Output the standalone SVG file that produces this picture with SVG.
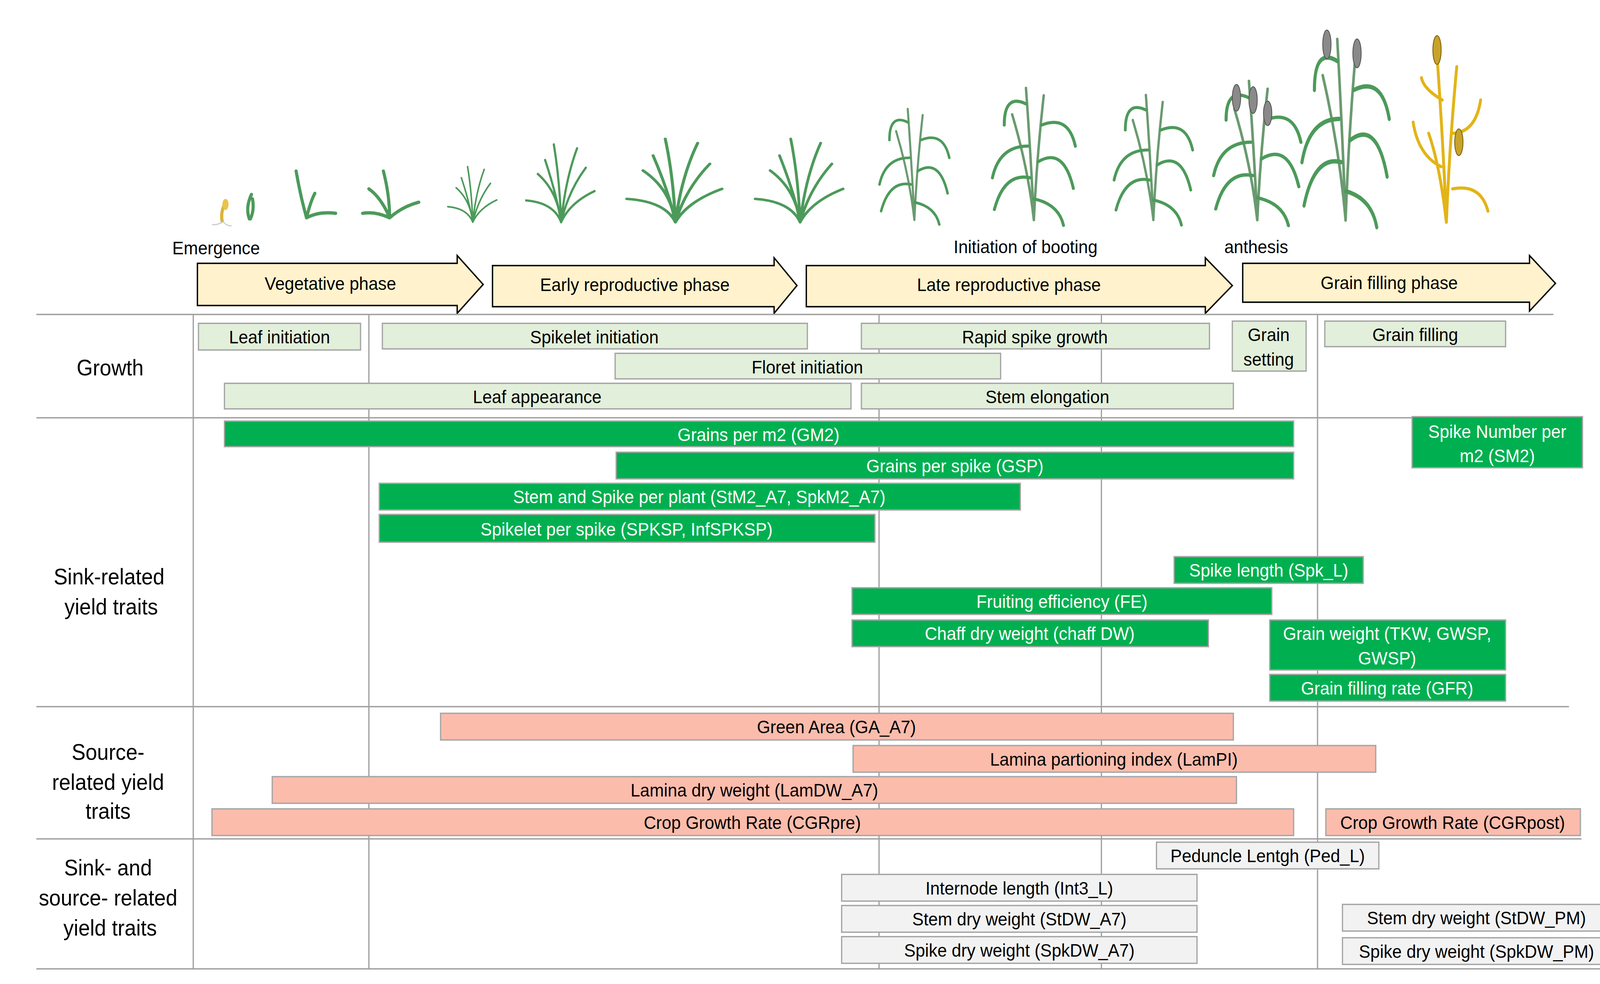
<svg xmlns="http://www.w3.org/2000/svg" xmlns:xlink="http://www.w3.org/1999/xlink" width="4437" height="2519" viewBox="0 0 4437 2519">
<style>
text{font-family:"Liberation Sans",Arial,sans-serif;font-size:16.5px;text-anchor:middle;fill:#000}
.lg{fill:#e2efda;stroke:#a5a5a5;stroke-width:1.2}
.gr{fill:#00b050;stroke:#a5a5a5;stroke-width:1.2}
.sa{fill:#fbbcac;stroke:#a5a5a5;stroke-width:1.2}
.gy{fill:#f2f2f2;stroke:#a5a5a5;stroke-width:1.2}
.ar{fill:#fff2cc;stroke:#000;stroke-width:1.3}
.w{fill:#fff}
.row{font-size:20px}
.ln{stroke:#a0a0a0;stroke-width:1.2;fill:none}
.lf{fill:none;stroke:#4c9a5a;stroke-width:3;stroke-linecap:round}
.st{fill:none;stroke:#6a9a70;stroke-width:2.5;stroke-linecap:round}
.sp{fill:#8a8a8a;stroke:#555;stroke-width:0.8}
.ys{fill:none;stroke:#e2b417;stroke-width:2.8;stroke-linecap:round}
.ysp{fill:#c9a22a;stroke:#7a6210;stroke-width:0.8}
</style>
<defs>
<g id="tuft">
<path class="lf" d="M0 0Q-5 -40 -32 -62M0 0Q6 -55 22 -95M0 0Q-10 -25 -48 -28M0 0Q12 -25 46 -40M0 0Q-2 -55 -10 -100M0 0Q10 -40 34 -70M0 0Q-6 -35 -22 -80"/>
</g>
<g id="tall">
<path class="st" d="M0 0Q-3 -60 -8 -125M0 0Q3 -60 10 -118M0 0Q-6 -50 -22 -100"/>
<path class="lf" d="M-4 -40Q-30 -45 -40 -10M-6 -70Q-35 -70 -42 -40M4 -55Q30 -70 40 -30M8 -90Q35 -100 42 -70M-8 -110Q-30 -120 -30 -90M0 -20Q25 -15 30 5"/>
</g>
</defs>
<g transform="scale(2.66 2.8443)">
<g id="plants">
<path d="M214 200q-2 -8 2 -16" stroke="#d9b43a" stroke-width="3" fill="none"/>
<ellipse cx="217" cy="184" rx="3" ry="5" fill="#e8c44a"/>
<path d="M214 200q-6 3 -10 2M215 200q4 4 8 3" stroke="#ccc" stroke-width="1" fill="none"/>
<path class="lf" d="M240 197q-4 -10 2 -22M241 197q4 -8 2 -18"/>
<path class="lf" d="M295 196q-6 -20 -10 -42M295 196q4 -15 8 -22M295 196q12 -6 28 -4"/>
<path class="lf" d="M375 196q-8 -18 -20 -26M375 196q0 -20 -6 -42M375 196q12 -10 28 -14M375 196q-14 -6 -26 -4"/>
<use xlink:href="#tuft" transform="translate(455 200) scale(0.5)"/>
<use xlink:href="#tuft" transform="translate(540 200) scale(0.7)"/>
<use xlink:href="#tuft" transform="translate(650 200) scale(0.975 0.75)"/>
<use xlink:href="#tuft" transform="translate(770 200) scale(0.9 0.75)"/>
<use xlink:href="#tall" transform="translate(880 198) scale(0.8)"/>
<use xlink:href="#tall" transform="translate(995 198) scale(0.95)"/>
<use xlink:href="#tall" transform="translate(1110 198) scale(0.9)"/>
<use xlink:href="#tall" transform="translate(1210 198) scale(1)"/>
<ellipse class="sp" cx="1190" cy="88" rx="4" ry="12"/>
<ellipse class="sp" cx="1206" cy="90" rx="4" ry="12"/>
<ellipse class="sp" cx="1220" cy="102" rx="4" ry="11"/>
<use xlink:href="#tall" transform="translate(1295 198) scale(1 1.3)"/>
<ellipse class="sp" cx="1277" cy="40" rx="4" ry="13"/>
<ellipse class="sp" cx="1306" cy="48" rx="4" ry="13"/>
<path class="ys" d="M1392 200Q1389 130 1383 50M1392 200Q1395 130 1402 60M1392 200Q1386 150 1375 120M1387 150Q1365 140 1360 110M1397 120Q1420 120 1425 90M1398 170Q1425 165 1432 190M1388 90Q1370 80 1368 70"/>
<ellipse class="ysp" cx="1383" cy="45" rx="4" ry="13"/>
<ellipse class="ysp" cx="1404" cy="128" rx="4" ry="12"/>
</g>
<g id="phases">
<text x="208" y="229">Emergence</text>
<text x="987" y="228">Initiation of booting</text>
<text x="1209" y="228">anthesis</text>
<path class="ar" d="M190 237H440V230L465 256L440 282V275H190Z"/>
<text x="318" y="261">Vegetative phase</text>
<path class="ar" d="M474 239H745V232L767 257L745 282V276H474Z"/>
<text x="611" y="262">Early reproductive phase</text>
<path class="ar" d="M776 239H1160V232L1186 257L1160 282V276H776Z"/>
<text x="971" y="262">Late reproductive phase</text>
<path class="ar" d="M1196 237H1472V230L1497 255L1472 280V272H1196Z"/>
<text x="1337" y="260">Grain filling phase</text>
</g>
<g id="grid">
<path class="ln" d="M35 283H1495M35 376H1495M35 636H1510M35 755H1522M35 872H1540M186 283V872M355 283V872M846 283V872M1060 283V872M1268 283V872"/>
</g>
<g id="rowlabels">
<text class="row" x="106" y="338">Growth</text>
<text class="row" x="105" y="526">Sink-related</text>
<text class="row" x="107" y="553">yield traits</text>
<text class="row" x="104" y="684">Source-</text>
<text class="row" x="104" y="711">related yield</text>
<text class="row" x="104" y="737">traits</text>
<text class="row" x="104" y="788">Sink- and</text>
<text class="row" x="104" y="815">source- related</text>
<text class="row" x="106" y="842">yield traits</text>
</g>
<g id="growth">
<rect class="lg" x="191" y="291" width="156" height="24"/><text x="269" y="309">Leaf initiation</text>
<rect class="lg" x="368" y="291" width="409" height="23"/><text x="572" y="309">Spikelet  initiation</text>
<rect class="lg" x="829" y="291" width="335" height="23"/><text x="996" y="309">Rapid spike growth</text>
<rect class="lg" x="1186" y="289" width="71" height="45"/><text x="1221" y="307">Grain</text><text x="1221" y="329">setting</text>
<rect class="lg" x="1275" y="289" width="174" height="23"/><text x="1362" y="307">Grain filling</text>
<rect class="lg" x="592" y="318" width="371" height="23"/><text x="777" y="336">Floret  initiation</text>
<rect class="lg" x="216" y="345" width="603" height="23"/><text x="517" y="363">Leaf appearance</text>
<rect class="lg" x="829" y="345" width="358" height="23"/><text x="1008" y="363">Stem elongation</text>
</g>
<g id="sink">
<rect class="gr" x="216" y="379" width="1029" height="23"/><text class="w" x="730" y="397">Grains per m2 (GM2)</text>
<rect class="gr" x="593" y="407" width="652" height="24"/><text class="w" x="919" y="425">Grains per spike (GSP)</text>
<rect class="gr" x="365" y="435" width="617" height="24"/><text class="w" x="673" y="453">Stem and Spike per plant (StM2_A7, SpkM2_A7)</text>
<rect class="gr" x="365" y="463" width="477" height="25"/><text class="w" x="603" y="482">Spikelet per spike (SPKSP, InfSPKSP)</text>
<rect class="gr" x="1359" y="375" width="164" height="46"/><text class="w" x="1441" y="394">Spike  Number per</text><text class="w" x="1441" y="416">m2 (SM2)</text>
<rect class="gr" x="1130" y="501" width="182" height="24"/><text class="w" x="1221" y="519">Spike length (Spk_L)</text>
<rect class="gr" x="820" y="529" width="404" height="24"/><text class="w" x="1022" y="547">Fruiting efficiency (FE)</text>
<rect class="gr" x="820" y="558" width="343" height="24"/><text class="w" x="991" y="576">Chaff dry weight (chaff DW)</text>
<rect class="gr" x="1222" y="558" width="227" height="45"/><text class="w" x="1335" y="576">Grain weight (TKW, GWSP,</text><text class="w" x="1335" y="598">GWSP)</text>
<rect class="gr" x="1222" y="607" width="227" height="24"/><text class="w" x="1335" y="625">Grain filling rate (GFR)</text>
</g>
<g id="source">
<rect class="sa" x="424" y="642" width="763" height="24"/><text x="805" y="660">Green Area (GA_A7)</text>
<rect class="sa" x="821" y="671" width="503" height="24"/><text x="1072" y="689">Lamina partioning index (LamPI)</text>
<rect class="sa" x="262" y="699" width="928" height="24"/><text x="726" y="717">Lamina dry weight (LamDW_A7)</text>
<rect class="sa" x="204" y="728" width="1041" height="24"/><text x="724" y="746">Crop Growth Rate (CGRpre)</text>
<rect class="sa" x="1276" y="728" width="245" height="24"/><text x="1398" y="746">Crop Growth Rate (CGRpost)</text>
</g>
<g id="both">
<rect class="gy" x="1113" y="758" width="214" height="24"/><text x="1220" y="776">Peduncle Lentgh (Ped_L)</text>
<rect class="gy" x="810" y="787" width="342" height="24"/><text x="981" y="805">Internode length (Int3_L)</text>
<rect class="gy" x="810" y="815" width="342" height="24"/><text x="981" y="833">Stem dry weight (StDW_A7)</text>
<rect class="gy" x="810" y="843" width="342" height="24"/><text x="981" y="861">Spike dry weight (SpkDW_A7)</text>
<rect class="gy" x="1292" y="814" width="259" height="24"/><text x="1421" y="832">Stem dry weight (StDW_PM)</text>
<rect class="gy" x="1292" y="844" width="259" height="24"/><text x="1421" y="862">Spike dry weight (SpkDW_PM)</text>
</g>
</g>
</svg>
